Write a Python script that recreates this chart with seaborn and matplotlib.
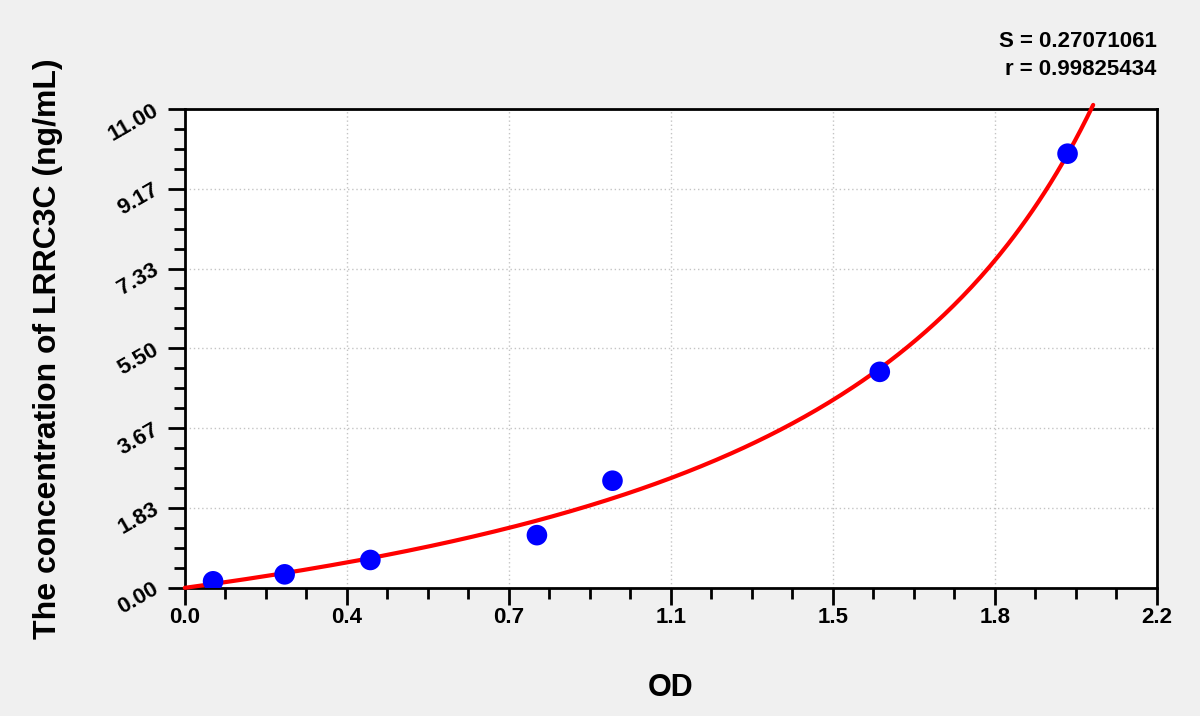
import numpy as np
import pandas as pd
import seaborn as sns
import matplotlib.pyplot as plt
from matplotlib.ticker import FixedLocator, AutoMinorLocator

# standard points
od = [0.064, 0.226, 0.420, 0.797, 0.968, 1.573, 1.998]
conc = [0.15, 0.31, 0.64, 1.21, 2.46, 4.96, 9.97]

x_ticks = [0.0, 2.2 / 6, 2.2 * 2 / 6, 1.1, 2.2 * 4 / 6, 2.2 * 5 / 6, 2.2]
x_labels = ["0.0", "0.4", "0.7", "1.1", "1.5", "1.8", "2.2"]
y_ticks = [0.0, 11 / 6, 11 * 2 / 6, 5.5, 11 * 4 / 6, 11 * 5 / 6, 11.0]
y_labels = ["0.00", "1.83", "3.67", "5.50", "7.33", "9.17", "11.00"]

stats_text = "S = 0.27071061\nr = 0.99825434"
curve_end = 2.056

df = pd.DataFrame({"OD": od, "conc": conc})

# hyperbolic standard curve conc = a*OD/(c-OD), least squares over c
x = np.array(od)
y = np.array(conc)
best = None
for c in np.linspace(2.06, 5.0, 3000):
    g = x / (c - x)
    a = (g @ y) / (g @ g)
    err = ((a * g - y) ** 2).sum()
    if best is None or err < best[0]:
        best = (err, a, c)
_, a_fit, c_fit = best
xs = np.linspace(0, curve_end, 300)
fit = pd.DataFrame({"OD": xs, "conc": a_fit * xs / (c_fit - xs)})

sns.set_style("white")
plt.rcParams["font.family"] = ["Liberation Sans", "DejaVu Sans"]
plt.rcParams["font.weight"] = "bold"
plt.rcParams["text.color"] = "black"
plt.rcParams["axes.labelcolor"] = "black"
plt.rcParams["xtick.color"] = "black"
plt.rcParams["ytick.color"] = "black"

fig = plt.figure(figsize=(12, 7.16), dpi=100, facecolor="#f0f0f0")
ax = fig.add_axes([0.154, 0.179, 0.810, 0.669])
ax.set_facecolor("white")

sns.lineplot(data=fit, x="OD", y="conc", color="#ff0000", linewidth=3,
             ax=ax, clip_on=False, zorder=3)
sns.scatterplot(data=df, x="OD", y="conc", color="#0000ff", s=220,
                edgecolor="none", ax=ax, zorder=4)

ax.set_xlim(0, 2.2)
ax.set_ylim(0, 11)
ax.xaxis.set_major_locator(FixedLocator(x_ticks))
ax.yaxis.set_major_locator(FixedLocator(y_ticks))
ax.set_xticklabels(x_labels, fontsize=16, fontweight="bold")
ax.set_yticklabels(y_labels, fontsize=16, fontweight="bold", rotation=30,
                   ha="right", va="center", rotation_mode="anchor")
ax.xaxis.set_minor_locator(AutoMinorLocator(4))
ax.yaxis.set_minor_locator(AutoMinorLocator(4))
ax.tick_params(which="both", bottom=True, left=True, top=False, right=False)
ax.tick_params(which="major", direction="out", length=12, width=2, color="black", pad=2)
ax.tick_params(which="minor", direction="out", length=8, width=2, color="black")
ax.tick_params(axis="y", which="major", pad=8)

ax.grid(True, which="major", color="#c4c4c4", linestyle=(0, (1, 2)), linewidth=1)
for side in ax.spines.values():
    side.set_color("black")
    side.set_linewidth(2)

ax.set_xlabel("OD", fontsize=22, fontweight="bold", labelpad=32)
ax.set_ylabel("The concentration of LRRC3C (ng/mL)", fontsize=23,
              fontweight="bold", labelpad=30)

fig.text(0.964, 0.888, stats_text, ha="right", va="bottom", fontsize=16,
         fontweight="bold", linespacing=1.45)

fig.savefig("out.png", dpi=100, facecolor=fig.get_facecolor())
